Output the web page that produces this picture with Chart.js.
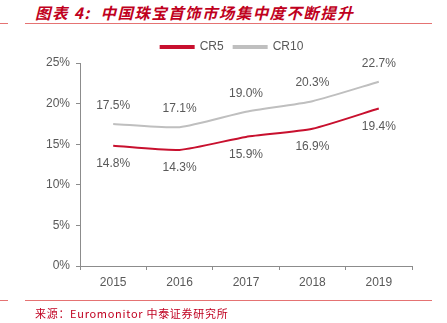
<!DOCTYPE html>
<html><head><meta charset="utf-8">
<script src="https://cdn.jsdelivr.net/npm/chart.js@4"></script>
<style>
html,body{margin:0;padding:0;background:#fff;width:447px;height:323px;overflow:hidden;}
#wrap{position:absolute;left:0;top:0;width:447px;height:323px;}
.rule{position:absolute;height:1px;background:#E57373;}
#title{position:absolute;left:35px;top:1px;font-family:"Noto Sans CJK SC";font-weight:bold;font-style:italic;font-size:15.5px;color:#C00020;white-space:nowrap;letter-spacing:1.4px;}
#src{position:absolute;left:35px;top:305px;font-family:"Noto Sans CJK SC";font-size:11px;color:#C00020;white-space:nowrap;letter-spacing:0.7px;}
canvas{position:absolute;left:0;top:0;}
</style></head>
<body><div id="wrap">
<div id="title">图表 4:&nbsp; 中国珠宝首饰市场集中度不断提升</div>
<div class="rule" style="left:0;top:23px;width:8px"></div>
<div class="rule" style="left:25px;top:23px;width:407px"></div>
<canvas id="c" width="447" height="323"></canvas>
<div class="rule" style="left:0;top:300px;width:8px"></div>
<div class="rule" style="left:25px;top:300px;width:407px"></div>
<div id="src">来源：Euromonitor 中泰证券研究所</div>
</div>
<script>
const years = ["2015","2016","2017","2018","2019"];
const cr5 = [14.8, 14.3, 15.9, 16.9, 19.4];
const cr10 = [17.5, 17.1, 19.0, 20.3, 22.7];
const seriesNames = ["CR5","CR10"];
const yTicks = [0,5,10,15,20,25];

const txt = "#595959";
const axisCol = "#8C8C8C";
const fontFam = "'Liberation Sans', Arial, sans-serif";

const labelPlugin = {
  id:'valLabels',
  afterLayout(chart){
    if (chart.legend){ chart.legend.left += 26; chart.legend.right += 26; }
  },
  afterDatasetsDraw(chart){
    const ctx = chart.ctx;
    ctx.save();
    ctx.font = "12px " + fontFam;
    ctx.fillStyle = txt;
    ctx.textAlign = "center";
    ctx.textBaseline = "middle";
    chart.data.datasets.forEach((ds,i)=>{
      const meta = chart.getDatasetMeta(i);
      meta.data.forEach((pt,j)=>{
        const off = i===1 ? -18 : 18;
        ctx.fillText(ds.data[j].toFixed(1)+"%", pt.x, pt.y+off);
      });
    });
    ctx.restore();
  }
};

new Chart(document.getElementById('c'), {
  type:'line',
  data:{
    labels: years,
    datasets:[
      {label:seriesNames[0], data:cr5, borderColor:"#C8102E", backgroundColor:"#C8102E", borderWidth:2, pointRadius:0, tension:0.2},
      {label:seriesNames[1], data:cr10, borderColor:"#BFBFBF", backgroundColor:"#BFBFBF", borderWidth:2, pointRadius:0, tension:0.2}
    ]
  },
  options:{
    responsive:false,
    animation:false,
    layout:{padding:{left:0,right:35,top:31,bottom:22}},
    plugins:{
      legend:{
        display:true,
        position:'top',
        labels:{boxWidth:33, boxHeight:2, color:txt, font:{family:fontFam,size:12}, padding:10}
      },
      tooltip:{enabled:false}
    },
    scales:{
      x:{
        offset:true,
        grid:{display:true, drawOnChartArea:false, drawTicks:true, tickLength:4, color:axisCol, offset:true},
        border:{display:true, color:axisCol, width:1},
        ticks:{color:txt, font:{family:fontFam,size:12}, padding:5, maxRotation:0},
        afterFit(s){ s.height = 35; }
      },
      y:{
        min:0, max:25,
        grid:{display:true, drawOnChartArea:false, drawTicks:true, tickLength:4, color:axisCol},
        border:{display:true, color:axisCol, width:1},
        afterBuildTicks(s){ s.ticks = yTicks.map(v=>({value:v})); },
        ticks:{color:txt, font:{family:fontFam,size:12}, padding:6, callback:v=>v+"%"},
        afterFit(s){ s.width = 80; }
      }
    }
  },
  plugins:[labelPlugin]
});
</script>
</body></html>
